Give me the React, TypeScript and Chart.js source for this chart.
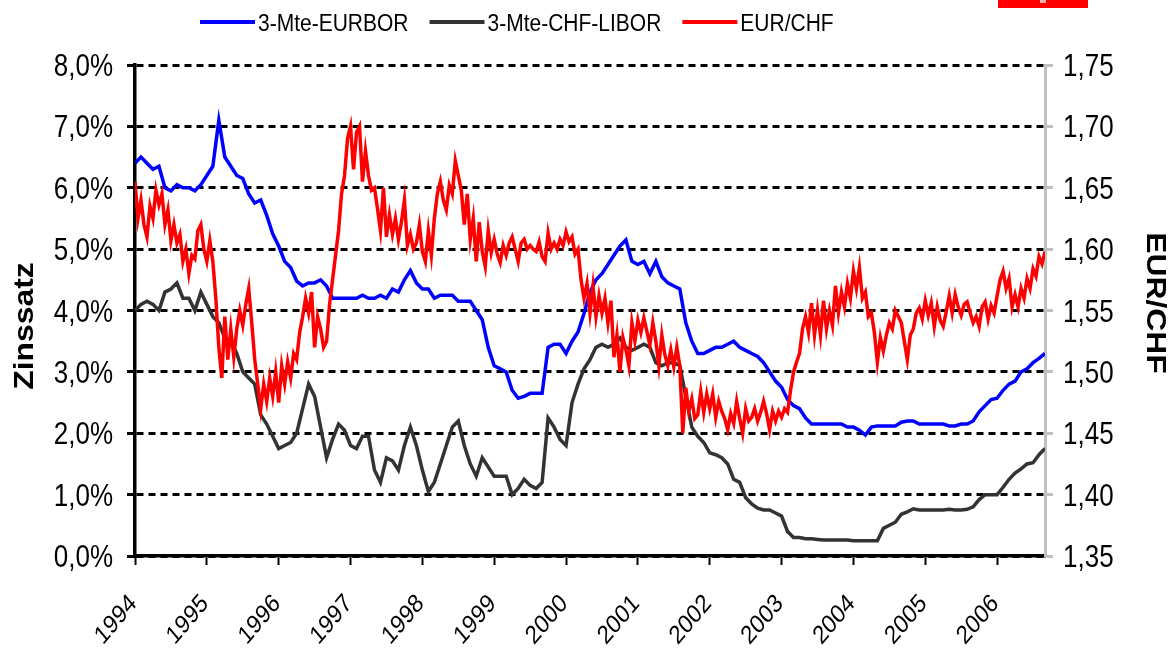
import React, { useEffect, useRef } from "react";
import { Chart, registerables } from "chart.js";

Chart.register(...registerables);

const START_YEAR = 1994;
const yearLabels = ["1994", "1995", "1996", "1997", "1998", "1999", "2000", "2001", "2002", "2003", "2004", "2005", "2006"];
const leftTicks = [0, 1, 2, 3, 4, 5, 6, 7, 8];
const rightTicks = [1.35, 1.4, 1.45, 1.5, 1.55, 1.6, 1.65, 1.7, 1.75];
const seriesNames = ["3-Mte-EURBOR", "3-Mte-CHF-LIBOR", "EUR/CHF"];
const seriesColors = ["#0000ff", "#333333", "#ff0000"];

// monthly values, Jan 1994 .. Sep 2006 (in %)
const euribor = [
  6.4, 6.5, 6.4, 6.3, 6.35, 6.0, 5.95, 6.05, 6.0, 6.0,
  5.95, 6.05, 6.2, 6.35, 7.1, 6.5, 6.35, 6.2, 6.15, 5.9,
  5.75, 5.8, 5.55, 5.25, 5.05, 4.8, 4.7, 4.48, 4.4, 4.45,
  4.45, 4.5, 4.4, 4.2, 4.2, 4.2, 4.2, 4.2, 4.25, 4.2,
  4.2, 4.25, 4.2, 4.35, 4.3, 4.5, 4.65, 4.45, 4.35, 4.35,
  4.2, 4.25, 4.25, 4.25, 4.15, 4.15, 4.15, 4.0, 3.85, 3.4,
  3.1, 3.05, 3.0, 2.7, 2.57, 2.6, 2.65, 2.65, 2.65, 3.4,
  3.45, 3.45, 3.3, 3.5, 3.65, 3.95, 4.3, 4.5, 4.6, 4.75,
  4.9, 5.05, 5.15, 4.8, 4.75, 4.8, 4.6, 4.8, 4.55, 4.45,
  4.4, 4.35, 3.8, 3.5, 3.3, 3.3, 3.35, 3.4, 3.4, 3.45,
  3.5, 3.4, 3.35, 3.3, 3.25, 3.15, 3.0, 2.85, 2.75, 2.55,
  2.45, 2.4, 2.25, 2.15, 2.15, 2.15, 2.15, 2.15, 2.15, 2.1,
  2.1, 2.05, 1.97, 2.1, 2.12, 2.12, 2.12, 2.12, 2.18, 2.2,
  2.2, 2.15, 2.15, 2.15, 2.15, 2.15, 2.12, 2.12, 2.15, 2.15,
  2.2, 2.35, 2.45, 2.55, 2.57, 2.7, 2.8, 2.85, 3.0, 3.05,
  3.15, 3.22, 3.3,
];

const chfLibor = [
  4.0, 4.1, 4.15, 4.1, 4.0, 4.3, 4.35, 4.45, 4.2, 4.2,
  4.0, 4.3, 4.1, 3.9, 3.8, 3.55, 3.5, 3.3, 3.0, 2.9,
  2.8, 2.3, 2.15, 1.95, 1.75, 1.8, 1.85, 2.0, 2.4, 2.8,
  2.6, 2.1, 1.6, 1.9, 2.15, 2.05, 1.8, 1.75, 1.95, 1.95,
  1.4, 1.2, 1.6, 1.55, 1.4, 1.8, 2.1, 1.8, 1.4, 1.05,
  1.2, 1.5, 1.8, 2.1, 2.2, 1.8, 1.5, 1.3, 1.6, 1.45,
  1.3, 1.3, 1.3, 1.0, 1.1, 1.25, 1.15, 1.1, 1.2, 2.25,
  2.1, 1.9, 1.8, 2.5, 2.8, 3.05, 3.2, 3.4, 3.45, 3.4,
  3.45, 3.55, 3.4, 3.35, 3.4, 3.45, 3.4, 3.15, 3.1, 3.15,
  3.15, 3.1, 2.6, 2.1, 1.95, 1.85, 1.68, 1.65, 1.6, 1.5,
  1.25, 1.2, 0.95, 0.85, 0.78, 0.75, 0.75, 0.7, 0.65, 0.4,
  0.3, 0.3, 0.28, 0.28, 0.27, 0.26, 0.26, 0.26, 0.26, 0.26,
  0.25, 0.25, 0.25, 0.25, 0.25, 0.45, 0.5, 0.55, 0.68, 0.72,
  0.77, 0.75, 0.75, 0.75, 0.75, 0.75, 0.76, 0.75, 0.75, 0.76,
  0.8, 0.92, 1.0, 1.0, 1.0, 1.12, 1.25, 1.35, 1.42, 1.5,
  1.52, 1.65, 1.75,
];

// half-monthly values, Jan 1994 .. Sep 2006
const eurChf = [
  1.655, 1.625, 1.64, 1.62, 1.61, 1.635, 1.625, 1.648, 1.636, 1.645,
  1.62, 1.632, 1.607, 1.62, 1.605, 1.612, 1.59, 1.6, 1.58, 1.595,
  1.592, 1.615, 1.62, 1.6, 1.59, 1.607, 1.59, 1.56, 1.52, 1.495,
  1.545, 1.51, 1.535, 1.512, 1.535, 1.55, 1.538, 1.555, 1.568, 1.54,
  1.51, 1.49, 1.47, 1.49, 1.476, 1.495, 1.48, 1.5, 1.475, 1.505,
  1.49, 1.508, 1.495, 1.515, 1.51, 1.532, 1.545, 1.56, 1.548, 1.565,
  1.52, 1.545, 1.535, 1.52, 1.525, 1.555, 1.575, 1.595, 1.615, 1.645,
  1.66, 1.69, 1.7, 1.665, 1.695, 1.7, 1.655, 1.68, 1.66, 1.648,
  1.65, 1.633, 1.615, 1.65, 1.61, 1.628, 1.612, 1.625, 1.608, 1.622,
  1.64, 1.603, 1.612, 1.6, 1.605, 1.62, 1.598, 1.59, 1.615, 1.595,
  1.625, 1.645, 1.655, 1.64, 1.632, 1.652, 1.645, 1.672, 1.66, 1.648,
  1.62, 1.645, 1.608, 1.625, 1.59, 1.622, 1.598, 1.586, 1.615, 1.597,
  1.608, 1.596, 1.589, 1.603, 1.595, 1.605, 1.61, 1.6, 1.59, 1.605,
  1.608, 1.6, 1.603, 1.6, 1.598, 1.606, 1.594, 1.59, 1.613, 1.6,
  1.605, 1.6, 1.608, 1.603, 1.614, 1.606, 1.61, 1.596, 1.6, 1.575,
  1.56, 1.572, 1.548, 1.57, 1.545, 1.562, 1.548, 1.56, 1.54, 1.558,
  1.512, 1.53, 1.5, 1.528, 1.518, 1.505, 1.54, 1.525, 1.542, 1.532,
  1.544, 1.533, 1.522, 1.54, 1.525, 1.505, 1.53, 1.514, 1.505, 1.518,
  1.504, 1.52, 1.505, 1.45, 1.487, 1.468, 1.478, 1.462, 1.465, 1.484,
  1.467, 1.482, 1.47, 1.482, 1.463, 1.476, 1.468, 1.462, 1.453, 1.466,
  1.458, 1.476, 1.462, 1.45, 1.47, 1.46, 1.463, 1.47, 1.46, 1.467,
  1.476, 1.466, 1.453, 1.468, 1.46, 1.468, 1.463, 1.47, 1.467, 1.485,
  1.5, 1.508, 1.515, 1.535, 1.545, 1.532, 1.556, 1.53, 1.55, 1.53,
  1.558, 1.535, 1.55, 1.538, 1.57, 1.548, 1.565, 1.553, 1.572, 1.56,
  1.582, 1.568, 1.585, 1.56, 1.565, 1.545, 1.548, 1.532, 1.508, 1.528,
  1.517, 1.53, 1.54, 1.535, 1.55, 1.545, 1.54, 1.525, 1.51, 1.53,
  1.535, 1.548, 1.552, 1.543, 1.558, 1.546, 1.556, 1.537, 1.553, 1.542,
  1.537, 1.549, 1.562, 1.548, 1.563, 1.553, 1.546, 1.555, 1.557, 1.548,
  1.54, 1.545, 1.537, 1.553, 1.557, 1.543, 1.554, 1.548, 1.562, 1.575,
  1.582, 1.568, 1.576, 1.553, 1.563, 1.553, 1.568, 1.56, 1.576, 1.568,
  1.584, 1.578, 1.594, 1.588, 1.598,
];

const FONT = '"Liberation Sans", Arial, Helvetica, sans-serif';
const STRETCH = 1.18;

const textPlugin = {
  id: "customText",
  afterDraw(chart: any) {
    const ctx = chart.ctx as CanvasRenderingContext2D;
    const yL = chart.scales.y;
    const yR = chart.scales.y2;
    const xs = chart.scales.x;

    const fontOf = (size: number, bold: boolean) => `${bold ? "bold " : ""}${size}px ${FONT}`;
    const put = (text: string, px: number, py: number, size: number, bold: boolean, align: CanvasTextAlign, rot: number) => {
      ctx.save();
      ctx.translate(px, py);
      ctx.scale(1, STRETCH);
      ctx.rotate(rot);
      ctx.font = fontOf(size, bold);
      ctx.fillStyle = "#000";
      ctx.textAlign = align;
      ctx.textBaseline = "alphabetic";
      ctx.fillText(text, 0, size * 0.36);
      ctx.restore();
    };

    leftTicks.forEach((v) => put(`${v.toFixed(1).replace(".", ",")}%`, 113, yL.getPixelForValue(v), 26, false, "right", 0));
    rightTicks.forEach((v) => put(v.toFixed(2).replace(".", ","), 1063, yR.getPixelForValue(v), 26, false, "left", 0));
    yearLabels.forEach((lbl) => {
      const px = xs.getPixelForValue(Number(lbl));
      put(lbl, px - 3, 598, 22, false, "right", -Math.PI / 4);
    });

    put("Zinssatz", 23, 326, 27, true, "center", -Math.PI / 2);
    put("EUR/CHF", 1157, 303, 27, true, "center", Math.PI / 2);

    // legend
    let lx = 200;
    const ly = 22;
    seriesNames.forEach((name, k) => {
      ctx.save();
      ctx.strokeStyle = seriesColors[k];
      ctx.lineWidth = 4;
      ctx.beginPath();
      ctx.moveTo(lx, ly);
      ctx.lineTo(lx + 55, ly);
      ctx.stroke();
      ctx.restore();
      put(name, lx + 58, ly, 21, false, "left", 0);
      ctx.save();
      ctx.font = fontOf(21, false);
      const w = ctx.measureText(name).width;
      ctx.restore();
      lx += 58 + w + 21;
    });

    // red box top right
    ctx.save();
    ctx.fillStyle = "#ff0000";
    ctx.fillRect(998, 0, 90, 8);
    ctx.fillStyle = "#f6b0b0";
    ctx.fillRect(1040, 0, 6, 3);
    ctx.restore();
  },
};

export default function App() {
  const canvasRef = useRef<HTMLCanvasElement | null>(null);

  useEffect(() => {
    document.body.style.margin = "0";
    const canvas = canvasRef.current;
    if (!canvas) return;

    const lineDs = (label: string, color: string, values: number[], perYear: number, axis: string, order: number) => ({
      label,
      data: values.map((v, i) => ({ x: START_YEAR + i / perYear, y: v })),
      yAxisID: axis,
      borderColor: color,
      backgroundColor: color,
      borderWidth: 3.5,
      pointRadius: 0,
      tension: 0,
      fill: false,
      order,
    });

    const chart = new Chart(canvas, {
      type: "line",
      data: {
        datasets: [
          lineDs(seriesNames[0], seriesColors[0], euribor, 12, "y", 1),
          lineDs(seriesNames[1], seriesColors[1], chfLibor, 12, "y", 2),
          lineDs(seriesNames[2], seriesColors[2], eurChf, 24, "y2", 0),
        ],
      },
      options: {
        responsive: false,
        animation: false,
        events: [],
        layout: { padding: { top: 65, left: 0, right: 0, bottom: 0 } },
        plugins: {
          legend: { display: false },
          tooltip: { enabled: false },
        },
        scales: {
          x: {
            type: "linear",
            min: START_YEAR,
            max: START_YEAR + 152 / 12,
            afterBuildTicks: (s: any) => {
              s.ticks = yearLabels.map((l) => ({ value: Number(l) }));
            },
            afterFit: (s: any) => {
              s.height = 94;
            },
            ticks: { display: false },
            grid: { drawOnChartArea: false, drawTicks: true, tickLength: 9, tickColor: "#000", tickWidth: 2 },
            border: { display: true, color: "#000", width: 3.5 },
          },
          y: {
            type: "linear",
            position: "left",
            min: 0,
            max: 8,
            afterBuildTicks: (s: any) => {
              s.ticks = leftTicks.map((v) => ({ value: v }));
            },
            afterFit: (s: any) => {
              s.width = 135;
            },
            ticks: { display: false },
            grid: { color: "#000", lineWidth: 3, drawTicks: true, tickLength: 8, tickColor: "#000", tickWidth: 3, tickBorderDash: [] },
            border: { display: true, color: "#000", width: 3.5, dash: [7, 5] },
          },
          y2: {
            type: "linear",
            position: "right",
            min: 1.35,
            max: 1.75,
            afterBuildTicks: (s: any) => {
              s.ticks = rightTicks.map((v) => ({ value: v }));
            },
            afterFit: (s: any) => {
              s.width = 129;
            },
            ticks: { display: false },
            grid: { drawOnChartArea: false, drawTicks: true, tickLength: 8, tickColor: "#c0c0c0", tickWidth: 3 },
            border: { display: true, color: "#c0c0c0", width: 3 },
          },
        },
      } as any,
      plugins: [textPlugin],
    });

    return () => chart.destroy();
  }, []);

  return (
    <div style={{ width: 1174, height: 650, background: "#fff" }}>
      <canvas ref={canvasRef} width={1174} height={650} style={{ display: "block" }} />
    </div>
  );
}
